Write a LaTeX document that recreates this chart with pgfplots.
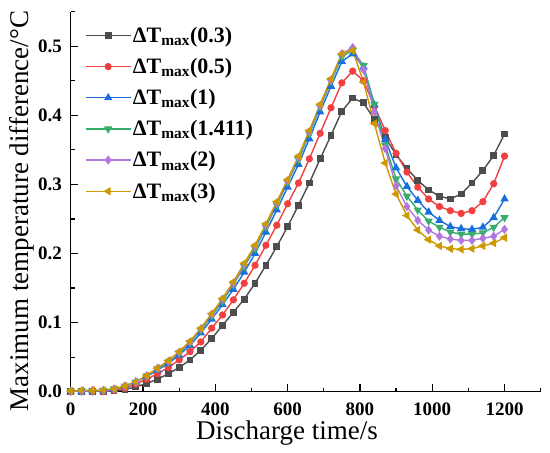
\documentclass[border=0pt]{standalone}
\usepackage{fontspec}
\setmainfont{Liberation Serif}
\usepackage{pgfplots}
\usepackage{pgfplotstable}
\pgfplotsset{compat=1.18}
\definecolor{c1}{HTML}{4D4D4D}
\definecolor{c2}{HTML}{F14040}
\definecolor{c3}{HTML}{1A6FDF}
\definecolor{c4}{HTML}{37AD6B}
\definecolor{c5}{HTML}{B177DE}
\definecolor{c6}{HTML}{CC9900}
\pgfplotstableread{
t a b c d e f
0 0 0 0 0.001 0.001 0.001
30 0 0 0 0.001 0.001 0.002
60 0 0 0.001 0.001 0.002 0.002
90 0 0 0.001 0.002 0.002 0.002
120 0.001 0.002 0.003 0.004 0.004 0.004
150 0.003 0.005 0.008 0.008 0.008 0.008
180 0.007 0.011 0.014 0.014 0.014 0.014
210 0.012 0.018 0.022 0.023 0.023 0.023
240 0.018 0.026 0.031 0.033 0.034 0.034
270 0.026 0.035 0.041 0.043 0.044 0.045
300 0.035 0.046 0.053 0.056 0.057 0.058
330 0.046 0.058 0.067 0.071 0.072 0.073
360 0.060 0.072 0.085 0.089 0.091 0.092
390 0.077 0.092 0.105 0.110 0.112 0.113
420 0.096 0.111 0.126 0.131 0.134 0.135
450 0.115 0.133 0.148 0.155 0.157 0.159
480 0.134 0.157 0.173 0.181 0.184 0.186
510 0.157 0.183 0.200 0.207 0.210 0.212
540 0.183 0.212 0.231 0.238 0.241 0.243
570 0.210 0.241 0.263 0.270 0.273 0.275
600 0.239 0.272 0.296 0.303 0.305 0.307
630 0.270 0.302 0.329 0.336 0.339 0.341
660 0.302 0.337 0.366 0.373 0.376 0.378
690 0.337 0.374 0.405 0.412 0.414 0.416
720 0.371 0.411 0.442 0.449 0.451 0.453
750 0.406 0.447 0.478 0.485 0.489 0.489
780 0.425 0.464 0.489 0.494 0.498 0.494
810 0.418 0.450 0.470 0.472 0.466 0.448
840 0.394 0.413 0.415 0.416 0.405 0.388
870 0.368 0.378 0.365 0.357 0.352 0.331
900 0.343 0.345 0.324 0.308 0.298 0.286
930 0.323 0.318 0.297 0.283 0.268 0.255
960 0.306 0.296 0.277 0.263 0.248 0.234
990 0.292 0.279 0.260 0.247 0.234 0.220
1020 0.283 0.268 0.248 0.238 0.225 0.211
1050 0.279 0.262 0.239 0.231 0.221 0.207
1080 0.286 0.258 0.236 0.228 0.219 0.206
1110 0.302 0.262 0.235 0.228 0.219 0.207
1140 0.320 0.275 0.238 0.230 0.222 0.211
1170 0.342 0.301 0.252 0.238 0.225 0.215
1200 0.373 0.341 0.279 0.252 0.235 0.223
}\datatable
\begin{document}
\begin{tikzpicture}
\begin{axis}[
  name=ax, at={(0,0)}, anchor=south west,
  scale only axis, width=470bp, height=380bp,
  xmin=0, xmax=1300, ymin=0, ymax=0.55,
  axis lines=left,
  axis line style={-, line width=1.2bp, black},
  hide obscured x ticks=false, hide obscured y ticks=false,
  xtick={0,200,400,600,800,1000,1200},
  xticklabels={\textbf{0},\textbf{200},\textbf{400},\textbf{600},\textbf{800},\textbf{1000},\textbf{1200}},
  minor xtick={100,300,500,700,900,1100,1300},
  ytick={0,0.1,0.2,0.3,0.4,0.5},
  yticklabels={\textbf{0.0},\textbf{0.1},\textbf{0.2},\textbf{0.3},\textbf{0.4},\textbf{0.5}},
  minor ytick={0.05,0.15,0.25,0.35,0.45,0.55},
  tick align=inside,
  major tick length=7.5bp, minor tick length=4bp,
  every tick/.style={line width=1.2bp, black},
  xticklabel style={font=\fontsize{19bp}{22bp}\selectfont\bfseries\boldmath, inner sep=0pt, anchor=north, yshift=-11bp},
  yticklabel style={font=\fontsize{19bp}{22bp}\selectfont\bfseries\boldmath, inner sep=0pt, anchor=east, xshift=-8.5bp},
  xlabel={Discharge time/s},
  ylabel={Maximum temperature difference/°C},
  label style={font=\fontsize{27bp}{30bp}\selectfont},
  xlabel style={at={(axis description cs:0.4602,-0.108)}, anchor=center},
  ylabel style={at={(axis description cs:-0.1043,0.4755)}, anchor=center},
  legend cell align=left,
  legend style={at={(0.03,0.964)}, anchor=north west, draw=none, fill=none,
    inner sep=0pt, row sep=11.4bp, font=\fontsize{22bp}{24bp}\selectfont\bfseries,
    nodes={inner sep=1.5bp}},
  legend image code/.code={\draw[mark repeat=2,mark phase=2] plot coordinates {(0bp,0bp) (22.5bp,0bp) (45bp,0bp)};},
  every axis plot/.append style={line width=1.4bp},
]
\addplot[color=c1, mark=square*, mark size=2.7bp, mark options={solid, fill=c1}] table[x=t,y=a] {\datatable};
\addlegendentry{ΔT\textsubscript{max}(0.3)}
\addplot[color=c2, mark=*, mark size=2.9bp, mark options={solid, fill=c2}] table[x=t,y=b] {\datatable};
\addlegendentry{ΔT\textsubscript{max}(0.5)}
\addplot[color=c3, mark=triangle*, mark size=3.5bp, mark options={solid, fill=c3}] table[x=t,y=c] {\datatable};
\addlegendentry{ΔT\textsubscript{max}(1)}
\addplot[color=c4, mark=triangle*, mark size=3.5bp, mark options={solid, fill=c4, rotate=180}] table[x=t,y=d] {\datatable};
\addlegendentry{ΔT\textsubscript{max}(1.411)}
\addplot[color=c5, mark=diamond*, mark size=3.5bp, mark options={solid, fill=c5}] table[x=t,y=e] {\datatable};
\addlegendentry{ΔT\textsubscript{max}(2)}
\addplot[color=c6, mark=triangle*, mark size=3.5bp, mark options={solid, fill=c6, rotate=90}] table[x=t,y=f] {\datatable};
\addlegendentry{ΔT\textsubscript{max}(3)}
\end{axis}
\pgfresetboundingbox
\path[use as bounding box] (-70.7bp,-61.3bp) rectangle (479.3bp,391.7bp);
\end{tikzpicture}
\end{document}
